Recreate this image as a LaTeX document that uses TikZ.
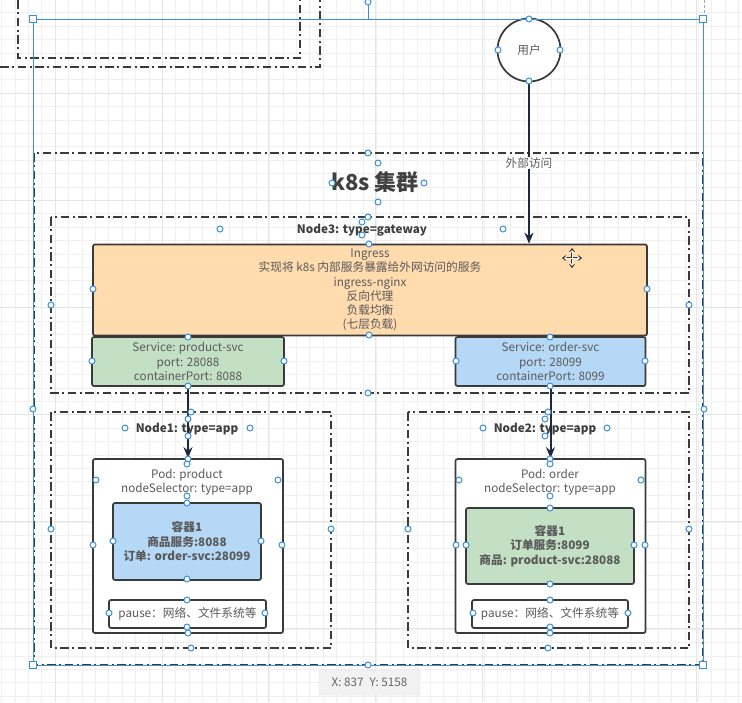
\documentclass[tikz,border=0pt]{standalone}
\usepackage{fontspec}
\setmainfont{Noto Sans CJK SC}
\usetikzlibrary{arrows.meta}
\definecolor{txtgray}{HTML}{5A5A5A}
\definecolor{linedark}{HTML}{3A3A3A}
\definecolor{selblue}{HTML}{3A90DE}
\definecolor{flowdark}{HTML}{1E2A3C}
\definecolor{ingressfill}{HTML}{FFDBAE}
\definecolor{greenfill}{HTML}{C3DFC4}
\definecolor{bluefill}{HTML}{B5D8F7}
\tikzset{
  minorline/.style={draw=black!6,line width=0.6pt},
  majorline/.style={draw=black!10,line width=0.8pt},
  group/.style={draw=linedark,line width=1.2pt,dash pattern=on 8.5pt off 3.5pt on 2pt off 3.5pt},
  box/.style={draw=linedark,line width=1.7pt,rounded corners=2pt,inner sep=0pt,align=center,
    text=txtgray,font=\fontsize{11.7}{14.2}\selectfont},
  title/.style={text=txtgray!70!black,inner sep=0pt,font=\fontsize{11.7}{14.2}\selectfont\bfseries},
  flow/.style={-{Stealth[length=11pt,width=9pt]},draw=flowdark,line width=2pt},
  handle/.style={draw=selblue,fill=white,line width=1pt},
  selline/.style={draw=selblue,line width=0.8pt}
}
\begin{document}
\begin{tikzpicture}[x=1pt,y=-1pt]
  \useasboundingbox (0,0) rectangle (742,702);
  \fill[white] (0,0) rectangle (742,702);
  % grid
  \foreach \t in {1.4,14.8,...,742} {\draw[minorline] (\t,0)--(\t,702);}
  \foreach \t in {-0.7,12.7,...,702} {\draw[minorline] (0,\t)--(742,\t);}
  \foreach \t in {55,162,268,375,482,589,696} {\draw[majorline] (\t,0)--(\t,702);}
  \foreach \t in {93,200,307,414,521,628} {\draw[majorline] (0,\t)--(742,\t);}

  % boxes cut off at the top
  \draw[group] (18,0)--(18,58)--(300,58)--(300,0);
  \draw[group] (0,67)--(320,67)--(320,0);

  % groups
  \draw[group] (34,153) rectangle (703,665);
  \draw[group] (51,217) rectangle (689,393);
  \draw[group] (51,412) rectangle (331,648);
  \draw[group] (408,412) rectangle (689,648);

  \node (k8stitle) [title,text=black!75,font=\fontsize{22}{26}\selectfont\bfseries] at (375,182) {k8s 集群};
  \node (node3title) [title] at (362,230) {Node3: type=gateway};
  \node (node1title) [title] at (187,429) {Node1: type=app};
  \node (node2title) [title] at (545,429) {Node2: type=app};

  \node (user) [draw=linedark,line width=1.7pt,circle,minimum size=63pt,inner sep=0pt,fill=white,
    text=txtgray,font=\fontsize{11.7}{14}\selectfont] at (529,50) {用户};

  \node (ingress) [box,fill=ingressfill,minimum width=554pt,minimum height=91pt] at (370,290) {Ingress\\
    实现将 k8s 内部服务暴露给外网访问的服务\\ingress-nginx\\反向代理\\负载均衡\\(七层负载)};
  \node (svcproduct) [box,fill=greenfill,minimum width=192pt,minimum height=49pt] at (188,361.5)
    {Service: product-svc\\port: 28088\\containerPort: 8088};
  \node (svcorder) [box,fill=bluefill,minimum width=190pt,minimum height=49pt] at (550.5,361.5)
    {Service: order-svc\\port: 28099\\containerPort: 8099};

  \node (podproduct) [box,fill=white,minimum width=190pt,minimum height=174pt] at (188,546) {};
  \node (podproducttext) [inner sep=0pt,align=center,text=txtgray,font=\fontsize{11.7}{14.2}\selectfont] at (187,482)
    {Pod: product\\nodeSelector: type=app};
  \node (appproduct) [box,fill=bluefill,minimum width=148pt,minimum height=77pt,font=\fontsize{11.7}{14.2}\selectfont\bfseries] at (187,541.5)
    {容器1\\商品服务:8088\\订单: order-svc:28099};
  \node (pauseproduct) [box,fill=white,minimum width=157pt,minimum height=28pt] at (187.5,614) {pause：网络、文件系统等};

  \node (podorder) [box,fill=white,minimum width=190pt,minimum height=174pt] at (550.5,546) {};
  \node (podordertext) [inner sep=0pt,align=center,text=txtgray,font=\fontsize{11.7}{14.2}\selectfont] at (550,482)
    {Pod: order\\nodeSelector: type=app};
  \node (apporder) [box,fill=greenfill,minimum width=168pt,minimum height=76pt,font=\fontsize{11.7}{14.2}\selectfont\bfseries] at (550,546)
    {容器1\\订单服务:8099\\商品: product-svc:28088};
  \node (pauseorder) [box,fill=white,minimum width=156pt,minimum height=28pt] at (550,614) {pause：网络、文件系统等};

  % connectors
  \draw[flow] (user.south) -- (user.south |- ingress.north)
    node[midway,fill=white,inner sep=1pt,text=txtgray,font=\fontsize{11.7}{14}\selectfont] (outside) {外部访问};
  \draw[flow] (svcproduct.south) -- (svcproduct.south |- podproduct.north);
  \draw[flow] (svcorder.south) -- (svcorder.south |- podorder.north);

  % selection frame
  \draw[black!35,line width=0.6pt,densely dashed] (704,0)--(704,19);
  \draw[selline] (33,19) rectangle (703,665);
  \draw[selline] (368,2)--(368,19);
  \foreach \x/\y in {33/19,703/19,33/665,703/665} {
    \draw[handle] (\x-3.5,\y-3.5) rectangle (\x+3.5,\y+3.5);
  }
  \foreach \x/\y in {368/2,33/409,704/409,368/665,
    529/19,498/50,560/50,529/81,
    368/153,332/183,424/183,378/163,378/202,
    368/217,51/305,689/305,368/393,
    220/229,503/229,362/222,362/235,
    369/244,93/289,647/289,369/335,
    188/337,92/361,284/361,188/386,
    550/337,456/361,645/361,550/386,
    191/412,51/529,331/529,191/648,
    125/428,250/428,188/419,188/436,
    548/412,408/529,689/529,548/648,
    483/428,607/428,545/419,545/436,
    188/459,93/545,282/545,188/633,
    187/464,96/480,278/480,187/496,
    187/503,113/541,261/541,187/579,
    187/600,109/613,265/613,187/627,
    550/459,456/545,645/545,550/633,
    550/464,459/480,641/480,550/496,
    550/508,466/545,634/545,550/584,
    550/600,473/613,628/613,550/627} {
    \draw[handle] (\x,\y) circle (3pt);
  }

  % move cursor
  \draw[<->,>={Stealth[length=4pt,width=6pt]},black!80,line width=1.6pt] (562,258)--(582,258);
  \draw[<->,>={Stealth[length=4pt,width=6pt]},black!80,line width=1.6pt] (572,248)--(572,268);
  \draw[<->,>={Stealth[length=3pt,width=4pt]},white,line width=0.6pt] (564,258)--(580,258);
  \draw[<->,>={Stealth[length=3pt,width=4pt]},white,line width=0.6pt] (572,250)--(572,266);

  % status box
  \node (status) [draw=black!12,fill=black!5,rounded corners=2pt,minimum width=101pt,minimum height=25pt,inner sep=0pt,
    text=black!60,font=\fontsize{11.7}{14}\selectfont] at (369.5,682.5) {X: 837\hspace{6pt}Y: 5158};
\end{tikzpicture}
\end{document}
